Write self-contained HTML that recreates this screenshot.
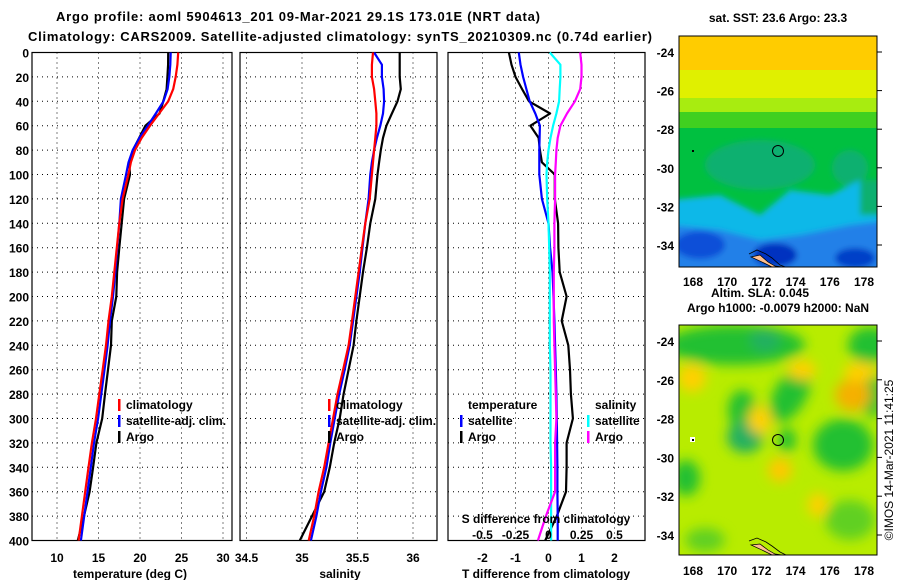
<!DOCTYPE html>
<html><head><meta charset="utf-8"><style>
body{margin:0;background:#fff;overflow:hidden;}
svg{display:block;font-family:"Liberation Sans",sans-serif;font-weight:bold;}
</style></head><body>
<svg id="fig" width="900" height="580" viewBox="0 0 900 580">
<defs>
<clipPath id="c1"><rect x="679" y="36" width="198" height="231"/></clipPath>
<clipPath id="c2"><rect x="679" y="325" width="198" height="230"/></clipPath>
<filter id="bl" x="-20%" y="-20%" width="140%" height="140%"><feGaussianBlur stdDeviation="3"/></filter>
<filter id="bl2" x="-50%" y="-50%" width="200%" height="200%"><feGaussianBlur stdDeviation="6"/></filter>
</defs>
<text x="56" y="21" font-size="13" textLength="484">Argo profile: aoml 5904613_201 09-Mar-2021 29.1S 173.01E (NRT data)</text>
<text x="28" y="41" font-size="13" textLength="624">Climatology: CARS2009. Satellite-adjusted climatology: synTS_20210309.nc (0.74d earlier)</text>

<g>
<text x="778" y="22" font-size="12" text-anchor="middle">sat. SST: 23.6 Argo: 23.3</text>
<g clip-path="url(#c1)">
<rect x="679" y="36" width="198" height="231" fill="#00c040"/>
<rect x="679" y="36" width="198" height="34" fill="#ffcc00"/>
<rect x="679" y="70" width="198" height="28" fill="#e0f000"/>
<rect x="679" y="98" width="198" height="14" fill="#a8ec10"/>
<rect x="679" y="112" width="198" height="16" fill="#40d020"/>
<g filter="url(#bl)">
<ellipse cx="760" cy="165" rx="55" ry="25" fill="#10b070"/>
<ellipse cx="850" cy="168" rx="18" ry="18" fill="#10b070"/>
<path d="M670 200 L720 195 L760 215 L790 190 L830 195 L860 180 L890 185 L890 280 L670 280 Z" fill="#10b8e8"/>
<rect x="860" y="180" width="30" height="35" fill="#10b070"/>
<path d="M670 225 L720 230 L760 240 L800 235 L850 225 L890 220 L890 280 L670 280Z" fill="#2080e8"/>
<ellipse cx="700" cy="245" rx="25" ry="14" fill="#1050d8"/>
<ellipse cx="775" cy="255" rx="22" ry="12" fill="#0030c0"/>
<ellipse cx="855" cy="258" rx="20" ry="10" fill="#0040c8"/>
</g>
<path d="M751 257 L760 255 L768 262 L775 266 L782 267 L772 267 L764 263 Z" fill="#ffc090" stroke="#000" stroke-width="0.7"/>
<path d="M749 254 L757 250 L766 254 L772 258 L780 265 L788 268" fill="none" stroke="#000" stroke-width="0.8"/>
<circle cx="778" cy="151" r="5.5" fill="none" stroke="#000" stroke-width="1"/>
<rect x="692" y="150" width="2" height="2" fill="#000"/>
</g>
<rect x="679" y="36" width="198" height="231" fill="none" stroke="#000"/>
</g>
<text x="760" y="297" font-size="12" text-anchor="middle">Altim. SLA: 0.045</text>
<text x="778" y="312" font-size="12" text-anchor="middle">Argo h1000: -0.0079 h2000: NaN</text>

<g>
<g clip-path="url(#c2)">
<rect x="679" y="325" width="198" height="230" fill="#b8ec00"/>
<g filter="url(#bl2)">
<ellipse cx="735" cy="345" rx="70" ry="20" fill="#20c030"/>
<ellipse cx="765" cy="340" rx="15" ry="12" fill="#20b060"/>
<ellipse cx="870" cy="345" rx="22" ry="18" fill="#20c030"/>
<ellipse cx="742" cy="410" rx="14" ry="20" fill="#20c030"/>
<ellipse cx="745" cy="437" rx="18" ry="16" fill="#20b060"/>
<ellipse cx="790" cy="395" rx="16" ry="30" fill="#20c030" transform="rotate(30 790 395)"/>
<ellipse cx="787" cy="440" rx="9" ry="12" fill="#20c030"/>
<ellipse cx="843" cy="445" rx="30" ry="26" fill="#20c030"/>
<ellipse cx="872" cy="395" rx="12" ry="22" fill="#20c030"/>
<ellipse cx="686" cy="478" rx="14" ry="18" fill="#20c030"/>
<ellipse cx="705" cy="540" rx="20" ry="12" fill="#60d020"/>
<ellipse cx="850" cy="520" rx="25" ry="20" fill="#60d020"/>
<ellipse cx="692" cy="378" rx="14" ry="14" fill="#ffd000"/>
<ellipse cx="853" cy="395" rx="18" ry="16" fill="#f5b000"/>
<ellipse cx="760" cy="420" rx="12" ry="14" fill="#ffd000"/>
<ellipse cx="780" cy="470" rx="12" ry="12" fill="#ffc800"/>
<ellipse cx="802" cy="370" rx="14" ry="10" fill="#ffd000"/>
<ellipse cx="860" cy="372" rx="16" ry="10" fill="#ffd000"/>
<ellipse cx="818" cy="505" rx="10" ry="12" fill="#ffd000"/>
</g>
<path d="M751 545 L760 544 L768 550 L775 554 L782 555 L772 555 L764 551 Z" fill="#ffc090" stroke="#000" stroke-width="0.7"/>
<path d="M749 541 L757 538 L766 542 L772 546 L780 552 L788 556" fill="none" stroke="#000" stroke-width="0.8"/>
<circle cx="778" cy="440" r="5.5" fill="none" stroke="#000" stroke-width="1"/>
<rect x="690" y="437" width="5" height="5" fill="#fff"/>
<rect x="692" y="439" width="2" height="2" fill="#000"/>
</g>
<rect x="679" y="325" width="198" height="230" fill="none" stroke="#000"/>
</g>
<text transform="translate(893,460) rotate(-90)" font-size="12" font-weight="normal" text-anchor="middle">©IMOS 14-Mar-2021 11:41:25</text>
<g id="plots"></g>
</svg>
<script>
const depths = [0,10,20,30,40,50,60,70,80,90,100,120,140,160,180,200,220,240,260,280,300,320,340,360,380,400];
const tempClim = [24.6,24.5,24.3,24.0,23.4,22.3,21.2,20.2,19.4,18.9,18.6,17.9,17.5,17.2,16.9,16.6,16.2,15.9,15.5,15.1,14.7,14.2,13.8,13.4,13.0,12.6];
const tempSatDiff = [-0.9,-0.85,-0.77,-0.67,-0.57,-0.4,-0.26,-0.27,-0.28,-0.28,-0.28,-0.2,0,0.05,0.12,0.15,0.18,0.2,0.22,0.24,0.25,0.26,0.27,0.27,0.28,0.28];
const tempArgoDiff = [-1.2,-1.12,-1.0,-0.8,-0.59,0.05,-0.55,-0.3,-0.26,-0.2,0.19,0.19,0.29,0.3,0.34,0.55,0.4,0.6,0.65,0.68,0.74,0.55,0.55,0.53,0.25,-0.1];
const salClim = [35.64,35.63,35.63,35.65,35.66,35.67,35.67,35.66,35.65,35.64,35.63,35.61,35.57,35.54,35.51,35.48,35.45,35.42,35.37,35.32,35.28,35.24,35.2,35.15,35.11,35.06];
const salSatDiff = [0.01,0.09,0.09,0.085,0.08,0.06,0.035,0.015,0,-0.01,-0.015,-0.01,0,0.005,0.01,0.01,0.01,0.01,0.015,0.015,0.015,0.015,0.02,0.02,0.02,0.02];
const salArgoDiff = [0.24,0.25,0.25,0.24,0.2,0.14,0.09,0.07,0.06,0.055,0.05,0.05,0.045,0.045,0.04,0.04,0.04,0.045,0.05,0.055,0.06,0.05,0.05,0.05,-0.02,-0.08];
const depthTicks = [0,20,40,60,80,100,120,140,160,180,200,220,240,260,280,300,320,340,360,380,400];
const tempTicks = [10,15,20,25,30];
const salTicks = [34.5,35,35.5,36];
const tdiffTicks = [-2,-1,0,1,2];
const sdiffTicks = [-0.5,-0.25,0,0.25,0.5];
const sdiffTickLabels = ["-0.5","-0.25","0","0.25","0.5"];
const latTicks = [-24,-26,-28,-30,-32,-34];
const lonTicks = [168,170,172,174,176,178];

const NS = "http://www.w3.org/2000/svg";
const root = document.getElementById('plots');
function mk(tag, attrs, parent){const e=document.createElementNS(NS,tag);for(const k in attrs)e.setAttribute(k,attrs[k]);(parent||root).appendChild(e);return e;}
const yD = d => 52.5 + d*1.22;
const xT = t => 57 + (t-10)*8.3;
const xS = s => 302 + (s-35)*111;
const xTD = v => 548.5 + v*33;
const xSD = v => 548.5 + v*132;
const panels = [
 {x0:32,x1:232,scale:xT,ticks:tempTicks,labels:tempTicks.map(String),name:'temperature',title:'temperature (deg C)',tx:130},
 {x0:240,x1:437,scale:xS,ticks:salTicks,labels:salTicks.map(String),name:'salinity',title:'salinity',tx:340},
 {x0:448,x1:645,scale:xTD,ticks:tdiffTicks,labels:tdiffTicks.map(String),name:'t-difference',title:'T difference from climatology',tx:546}
];
panels.forEach(p=>{
  const g = mk('g',{});
  
  
  depthTicks.forEach(d=>{ if(d>0&&d<400){const l=mk('line',{x1:p.x0,x2:p.x1,y1:yD(d),y2:yD(d),stroke:'#000','stroke-dasharray':'1,4','stroke-width':1},g);
    
    }});
  p.ticks.forEach((t,i)=>{const x=p.scale(t);
    if(x>p.x0+2&&x<p.x1-2){const l=mk('line',{x1:x,x2:x,y1:yD(0),y2:yD(400),stroke:'#000','stroke-dasharray':'1,4','stroke-width':1},g);
      
      }
    const tx=mk('text',{x:x,y:562,'font-size':12,'text-anchor':'middle'},g); tx.textContent=p.labels[i];
    
    
  });
  const fr=mk('rect',{x:p.x0,y:yD(0),width:p.x1-p.x0,height:yD(400)-yD(0),fill:'none',stroke:'#000','stroke-width':1.2},g);
  
  
  const at=mk('text',{x:p.tx,y:578,'font-size':12,'text-anchor':'middle'},g); at.textContent=p.title;
  
  
});
depthTicks.forEach(d=>{const t=mk('text',{x:29,y:yD(d)+5,'font-size':12,'text-anchor':'end'});t.textContent=String(d);
  
  });

function line(xs, color, name){
  const pts = depths.map((d,i)=>xs[i].toFixed(1)+','+yD(d).toFixed(1)).join(' ');
  const pl = mk('polyline',{points:pts,fill:'none',stroke:color,'stroke-width':2.2,'stroke-linejoin':'round'});
  
  
}
line(depths.map((d,i)=>xT(tempClim[i]+tempArgoDiff[i])),'#000','temp-argo-line');
line(depths.map((d,i)=>xT(tempClim[i]+tempSatDiff[i])),'#0000ff','temp-satellite-line');
line(depths.map((d,i)=>xT(tempClim[i])),'#ff0000','temp-climatology-line');
line(depths.map((d,i)=>xS(salClim[i]+salArgoDiff[i])),'#000','sal-argo-line');
line(depths.map((d,i)=>xS(salClim[i]+salSatDiff[i])),'#0000ff','sal-satellite-line');
line(depths.map((d,i)=>xS(salClim[i])),'#ff0000','sal-climatology-line');
line(depths.map((d,i)=>xTD(tempArgoDiff[i])),'#000','tdiff-argo-line');
line(depths.map((d,i)=>xTD(tempSatDiff[i])),'#0000ff','tdiff-satellite-line');
line(depths.map((d,i)=>xSD(salSatDiff[i])),'#00ffff','sdiff-satellite-line');
line(depths.map((d,i)=>xSD(salArgoDiff[i])),'#ff00ff','sdiff-argo-line');

function leg(x,y,color,label){
  const g=mk('g',{});
  
  
  if(color) mk('rect',{x:x,y:y-10,width:2.5,height:12,fill:color},g);
  const t=mk('text',{x:x+8,y:y,'font-size':12},g); t.textContent=label;
}
leg(118,409,'#ff0000','climatology');leg(118,425,'#0000ff','satellite-adj. clim.');leg(118,441,'#000','Argo');
leg(328,409,'#ff0000','climatology');leg(328,425,'#0000ff','satellite-adj. clim.');leg(328,441,'#000','Argo');
leg(460,409,null,'temperature');leg(460,425,'#0000ff','satellite');leg(460,441,'#000','Argo');
leg(587,409,null,'salinity');leg(587,425,'#00ffff','satellite');leg(587,441,'#ff00ff','Argo');
const st=mk('text',{x:546,y:523,'font-size':12,'text-anchor':'middle'});st.textContent='S difference from climatology';


sdiffTicks.forEach((v,i)=>{const t=mk('text',{x:xSD(v),y:539,'font-size':12,'text-anchor':'middle'});t.textContent=sdiffTickLabels[i];
  
  });

const yLat1 = l => 245 - (l+34)*19.3;
const yLat2 = l => 535 - (l+34)*19.4;
const xLon = l => 693 + (l-168)*17.1;
[[yLat1,286],[yLat2,575]].forEach(([yf,ly])=>{
  latTicks.forEach(l=>{const t=mk('text',{x:674,y:yf(l)+5,'font-size':12,'text-anchor':'end'});t.textContent=String(l);
    
    
    mk('line',{x1:877,x2:882,y1:yf(l),y2:yf(l),stroke:'#000'});});
  lonTicks.forEach(l=>{const t=mk('text',{x:xLon(l),y:ly,'font-size':12,'text-anchor':'middle'});t.textContent=String(l);
    
    });
});
</script>
</body></html>
